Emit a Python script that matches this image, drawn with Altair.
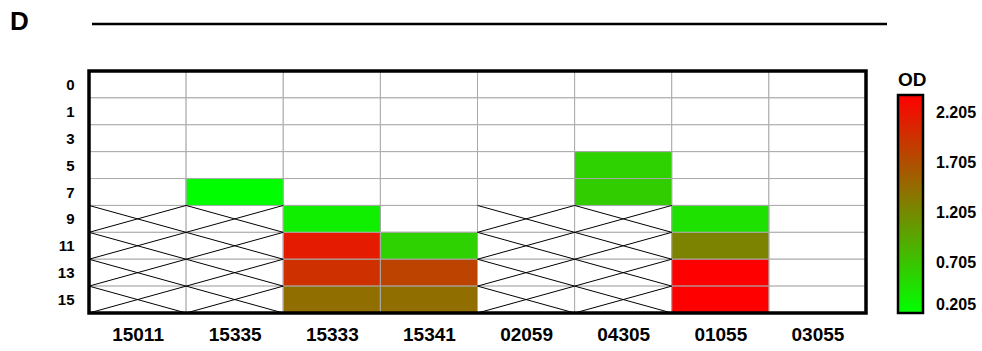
import altair as alt
import pandas as pd

# Strains (columns) and sampling hours (rows)
strains = ["15011", "15335", "15333", "15341", "02059", "04305", "01055", "03055"]
hours = ["0", "1", "3", "5", "7", "9", "11", "13", "15"]

# Measured OD cells
od_strain = ["15335", "15333", "15333", "15333", "15333", "15341", "15341", "15341",
             "04305", "04305", "01055", "01055", "01055", "01055"]
od_hour = ["7", "9", "11", "13", "15", "11", "13", "15",
           "5", "7", "9", "11", "13", "15"]
od_value = [0.21, 0.34, 2.16, 1.98, 1.44, 0.59, 1.82, 1.44,
            0.59, 0.63, 0.46, 1.27, 2.39, 2.39]

# Cells with no measurement (crossed out)
na_strain = ["15011"] * 4 + ["15335"] * 4 + ["02059"] * 4 + ["04305"] * 4
na_hour = ["9", "11", "13", "15"] * 4

legend_ticks = [0.205, 0.705, 1.205, 1.705, 2.205]

FONT = "Liberation Sans"

grid = pd.DataFrame(
    [{"x0": i, "x1": i + 1, "y0": j, "y1": j + 1}
     for i in range(len(strains)) for j in range(len(hours))]
)

frame = pd.DataFrame([{"x0": 0, "x1": len(strains), "y0": 0, "y1": len(hours)}])

od = pd.DataFrame({"strain": od_strain, "hour": od_hour, "od": od_value})
od["x0"] = od["strain"].map(strains.index)
od["x1"] = od["x0"] + 1
od["y0"] = od["hour"].map(hours.index)
od["y1"] = od["y0"] + 1

cross_rows = []
for s, h in zip(na_strain, na_hour):
    i, j = strains.index(s), hours.index(h)
    cross_rows.append({"x0": i, "y0": j, "x1": i + 1, "y1": j + 1})
    cross_rows.append({"x0": i, "y0": j + 1, "x1": i + 1, "y1": j})
cross = pd.DataFrame(cross_rows)

x_labels = "[" + ",".join(f"'{s}'" for s in strains) + "]"
y_labels = "[" + ",".join(f"'{h}'" for h in hours) + "]"

x_enc = alt.X(
    "x0:Q",
    scale=alt.Scale(domain=[0, len(strains)], nice=False, zero=False),
    axis=alt.Axis(
        values=[i + 0.5 for i in range(len(strains))],
        labelExpr=f"{x_labels}[floor(datum.value)]",
        title=None, grid=False, ticks=False, domain=False,
        labelFont=FONT, labelFontSize=19, labelFontWeight="bold",
        labelColor="black", labelPadding=12,
    ),
)
y_enc = alt.Y(
    "y0:Q",
    scale=alt.Scale(domain=[0, len(hours)], nice=False, zero=False, reverse=True),
    axis=alt.Axis(
        values=[j + 0.5 for j in range(len(hours))],
        labelExpr=f"{y_labels}[floor(datum.value)]",
        title=None, grid=False, ticks=False, domain=False,
        labelFont=FONT, labelFontSize=15, labelFontWeight="bold",
        labelColor="black", labelPadding=15,
    ),
)

cells = alt.Chart(grid).mark_rect(fill="white", stroke="#aaaaaa", strokeWidth=1).encode(
    x=x_enc, x2="x1:Q", y=y_enc, y2="y1:Q"
)

colored = alt.Chart(od).mark_rect(stroke="#aaaaaa", strokeWidth=1).encode(
    x=x_enc, x2="x1:Q", y=y_enc, y2="y1:Q",
    color=alt.Color(
        "od:Q",
        scale=alt.Scale(domain=[0.205, 2.39], range=["#00ff00", "#ff0000"],
                        interpolate="rgb"),
        legend=alt.Legend(
            title="OD", values=legend_ticks, format=".3f",
            titleFont=FONT, titleFontSize=19, titleFontWeight="bold",
            titleColor="black", titlePadding=5,
            labelFont=FONT, labelFontSize=16, labelFontWeight="bold",
            labelColor="black", labelOffset=13, labelOverlap=False,
            gradientLength=218, gradientThickness=25,
            gradientStrokeColor="black", gradientStrokeWidth=2.5,
            offset=32, padding=0,
        ),
    ),
)

crosses = alt.Chart(cross).mark_rule(color="black", strokeWidth=1).encode(
    x=x_enc, y=y_enc, x2="x1:Q", y2="y1:Q"
)

# Heavy outline around the whole grid
outline = alt.Chart(frame).mark_rect(fill=None, stroke="black", strokeWidth=3.5).encode(
    x=x_enc, x2="x1:Q", y=y_enc, y2="y1:Q"
)

panel_letter = alt.Chart(pd.DataFrame({"t": ["D"]})).mark_text(
    font=FONT, fontSize=26, fontWeight="bold", align="left", baseline="middle",
    color="black",
).encode(x=alt.value(-79), y=alt.value(-49), text="t:N")

header_line = alt.Chart(pd.DataFrame({"t": [0]})).mark_rule(
    color="black", strokeWidth=2.5
).encode(x=alt.value(3), x2=alt.value(798), y=alt.value(-47))

chart = (
    alt.layer(cells, colored, crosses, outline, panel_letter, header_line)
    .properties(
        width=777, height=242,
        autosize=alt.AutoSizeParams(type="none"),
        padding={"left": 89, "top": 71, "right": 116, "bottom": 38},
    )
    .configure_view(stroke=None)
    .configure(background="white")
)

chart.save("out.html", embed_options={"renderer": "svg", "actions": False})
